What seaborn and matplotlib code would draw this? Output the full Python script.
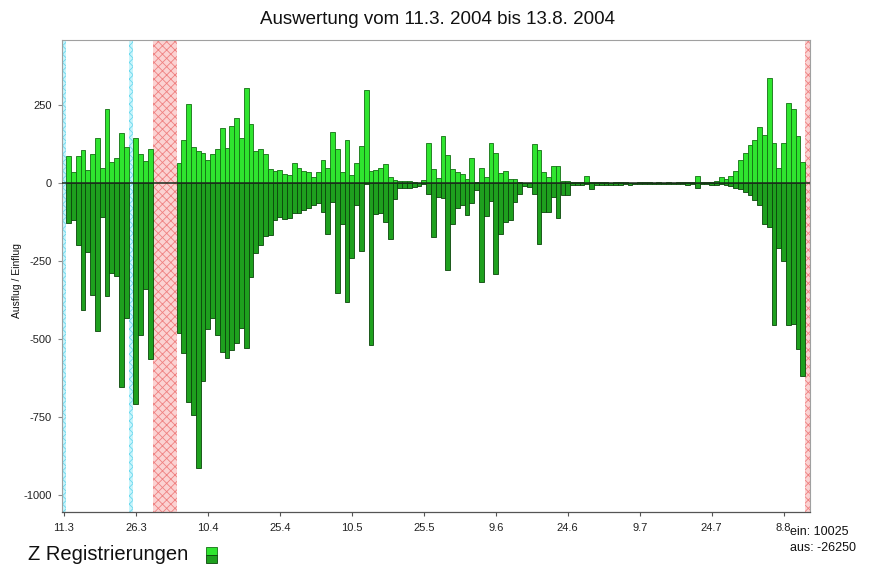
import matplotlib
matplotlib.use("Agg")
import matplotlib.pyplot as plt
import numpy as np
import pandas as pd
import seaborn as sns
from matplotlib.patches import Rectangle

# Daily counts from 11.3.2004 to 13.8.2004 (None = no data for that day)
ein = [
    None, 85, 35, 85, 105, 43, 92, 145, 49, 236, 67, 81, 160, 115,
    None, 145, 92, 70, 108,
    None, None, None, None, None,
    64, 137, 252, 115, 101, 97, 73, 94, 108, 177, 112, 182, 208, 145, 305, 190, 101,
    108, 93, 44, 37, 40, 29, 25, 63, 47, 38,
    35, 19, 35, 75, 49, 163, 108, 35, 137, 25, 64, 117, 299,
    38, 41, 49, 60, 19, 9, 6, 6, 6, 3, 1, 11,
    128, 46, 17, 150, 89, 46, 35, 30, 14, 81, 3, 48, 19, 128, 96, 32, 38, 13, 13, 3, 1, 1,
    124, 105, 35, 19, 53, 53, 5, 5,
    3, 2, 4, 23, 2,
    3, 2, 2, 1, 2, 3, 2, 1, 1, 2, 3, 2, 1, 2, 1, 2, 1, 2, 3, 2, 2, 23, 3, 2, 4, 6,
    20, 12, 22, 38, 74, 96, 122, 138, 178, 154, 335, 127, 47, 127, 255, 237, 150, 68,
    None,
]
aus = [
    None, -128, -118, -198, -408, -221, -358, -474, -109, -363, -288, -299, -652, -431,
    None, -707, -488, -341, -563,
    None, None, None, None, None,
    -481, -545, -702, -742, -913, -635, -468, -431, -488, -541, -560, -534, -512, -463, -529, -301, -223,
    -200, -170, -166, -120, -108, -116, -112, -95, -95, -85,
    -79, -72, -64, -93, -164, -60, -352, -132, -381, -239, -70, -218, -3,
    -520, -100, -96, -125, -178, -50, -15, -15, -15, -13, -11, -4,
    -34, -173, -45, -47, -278, -130, -80, -70, -104, -64, -23, -317, -107, -58, -290, -165, -125, -118, -62, -36, -11, -13,
    -34, -197, -93, -93, -45, -112, -40, -40,
    -8, -6, -5, -3, -20,
    -6, -5, -8, -7, -6, -5, -4, -6, -3, -2, -4, -3, -2, -3, -2, -3, -2, -4, -3, -5, -4, -16, -4, -3, -5, -8,
    -3, -5, -10, -15, -20, -28, -38, -55, -70, -130, -140, -455, -209, -249, -455, -452, -533, -619,
    None,
]
tick_dates = ["11.3", "26.3", "10.4", "25.4", "10.5", "25.5", "9.6", "24.6", "9.7", "24.7", "8.8"]
y_ticks = [250, 0, -250, -500, -750, -1000]
cyan_days = ["11.3", "25.3"]
red_days = ["30.3", "31.3", "1.4", "2.4", "3.4", "13.8"]
total_ein = 10025
total_aus = -26250

dates = pd.date_range("2004-03-11", "2004-08-13", freq="D")
tags = [f"{d.day}.{d.month}" for d in dates]
df = pd.DataFrame({"tag": tags, "ein": ein, "aus": aus})

sns.set_style("white")
plt.rcParams["font.family"] = ["Liberation Sans", "DejaVu Sans"]
plt.rcParams["hatch.linewidth"] = 0.6

W, H = 873, 565
fig = plt.figure(figsize=(W / 100, H / 100), dpi=100)
ax = fig.add_axes([61.5 / W, 1 - 512 / H, (810 - 61.5) / W, (512 - 40) / H])

pos = {t: i for i, t in enumerate(tags)}

# marked days
for t in cyan_days:
    i = pos[t]
    ax.axvspan(i - 0.5, i + 0.5, facecolor="#c8f4fb", edgecolor="#6ad8ee",
               hatch="xxxx", linewidth=0, zorder=0)
for t in red_days:
    i = pos[t]
    ax.axvspan(i - 0.5, i + 0.5, facecolor="#fbd2d2", edgecolor="#ef8080",
               hatch="xxxx", linewidth=0, zorder=0)

sns.barplot(data=df.dropna(subset=["ein"]), x="tag", y="ein", order=tags,
            color="#2fe52f", edgecolor="#137013", linewidth=0.6, width=1,
            saturation=1, errorbar=None, ax=ax, zorder=2)
sns.barplot(data=df.dropna(subset=["aus"]), x="tag", y="aus", order=tags,
            color="#1ea01e", edgecolor="#0a460a", linewidth=0.6, width=1,
            saturation=1, errorbar=None, ax=ax, zorder=2)

ax.axhline(0, color="#1c2a1c", linewidth=1.1, zorder=4)

ax.set_xlim(-0.5, 155.5)
ax.set_ylim(-1054, 458)
ax.set_xticks([pos[t] for t in tick_dates])
ax.set_xticklabels(tick_dates, fontsize=8, color="#222222")
ax.set_yticks(y_ticks)
ax.set_yticklabels([str(v) for v in y_ticks], fontsize=8, color="#222222")
ax.set_xlabel("")
ax.set_ylabel("")
ax.tick_params(axis="x", length=3, width=0.8, color="#555555", pad=5, bottom=True)
ax.tick_params(axis="y", length=3, width=0.8, color="#888888", pad=4, left=True)

for s in ["left", "top", "right"]:
    ax.spines[s].set_color("#a0a0a0")
    ax.spines[s].set_linewidth(0.8)
ax.spines["bottom"].set_color("#555555")
ax.spines["bottom"].set_linewidth(0.9)

fig.text(437 / W, 1 - 20 / H, "Auswertung vom 11.3. 2004 bis 13.8. 2004",
         ha="center", va="center", fontsize=13.5, color="#111111")
fig.text(17 / W, 1 - 280 / H, "Ausflug / Einflug", rotation=90,
         ha="center", va="center", fontsize=7.5, color="#111111")
fig.text(790 / W, 1 - 532 / H, f"ein: {total_ein}", ha="left", va="center",
         fontsize=9, color="#111111")
fig.text(790 / W, 1 - 548 / H, f"aus: {total_aus}", ha="left", va="center",
         fontsize=9, color="#111111")
fig.text(28 / W, 1 - 555 / H, "Z Registrierungen", ha="left", va="center",
         fontsize=14.5, color="#111111")

# legend swatch: light (ein) over dark (aus)
fig.add_artist(Rectangle((206 / W, 1 - 555 / H), 11 / W, 8 / H,
                         transform=fig.transFigure, facecolor="#2fe52f",
                         edgecolor="#137013", linewidth=0.6))
fig.add_artist(Rectangle((206 / W, 1 - 563 / H), 11 / W, 8 / H,
                         transform=fig.transFigure, facecolor="#1ea01e",
                         edgecolor="#0a460a", linewidth=0.6))

fig.savefig("out.png", dpi=100)
